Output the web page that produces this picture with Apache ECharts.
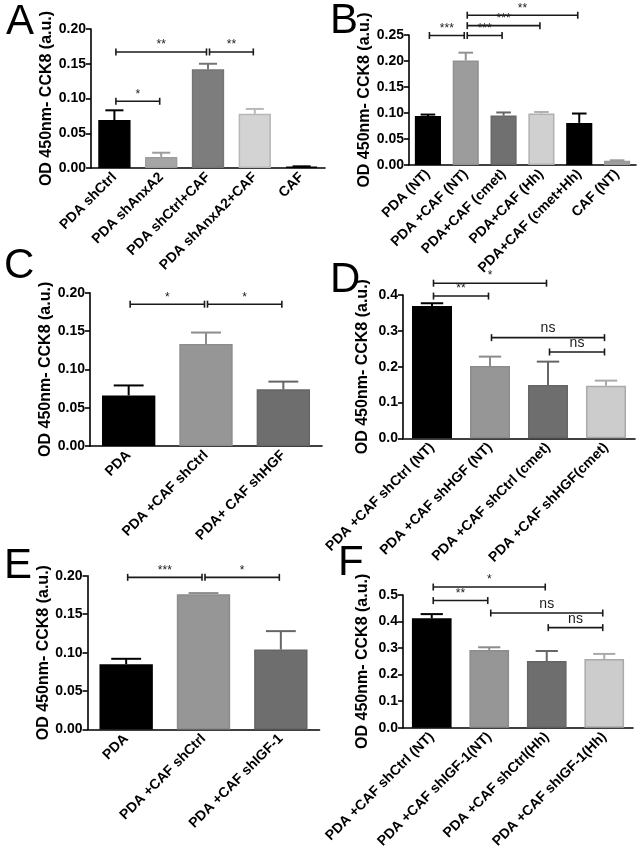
<!DOCTYPE html>
<html><head><meta charset="utf-8">
<script src="https://cdn.jsdelivr.net/npm/echarts@6/dist/echarts.min.js"></script>
<style>html,body{margin:0;padding:0;background:#fff}#c{width:644px;height:852px}</style>
</head><body><div id="c"></div>
<script>
// ---------------- DATA ----------------
const yName = 'OD 450nm- CCK8 (a.u.)';

const catsA = ['PDA shCtrl', 'PDA shAnxA2', 'PDA shCtrl+CAF', 'PDA shAnxA2+CAF', 'CAF'];
const meanA = [0.069, 0.016, 0.142, 0.078, 0.002];
const semA  = [0.014, 0.006, 0.008, 0.007, 0.0004];
const sigA  = [[0, 1, 0.096], [0, 2, 0.167], [2, 3, 0.167]];
const sigLabelsA = ['*', '**', '**'];

const catsB = ['PDA (NT)', 'PDA +CAF (NT)', 'PDA+CAF (cmet)', 'PDA+CAF (Hh)', 'PDA+CAF (cmet+Hh)', 'CAF (NT)'];
const meanB = [0.094, 0.201, 0.095, 0.099, 0.081, 0.008];
const semB  = [0.003, 0.015, 0.006, 0.003, 0.018, 0.001];
const sigB  = [[0, 1, 0.249], [1, 2, 0.249], [1, 3, 0.268], [1, 4, 0.288]];
const sigLabelsB = ['***', '***', '***', '**'];

const catsC = ['PDA', 'PDA +CAF shCtrl', 'PDA+ CAF shHGF'];
const meanC = [0.066, 0.133, 0.074];
const semC  = [0.013, 0.015, 0.010];
const sigC  = [[0, 1, 0.185], [1, 2, 0.185]];
const sigLabelsC = ['*', '*'];

const catsD = ['PDA +CAF shCtrl (NT)', 'PDA +CAF shHGF (NT)', 'PDA +CAF shCtrl (cmet)', 'PDA +CAF shHGF(cmet)'];
const meanD = [0.369, 0.202, 0.149, 0.147];
const semD  = [0.008, 0.026, 0.065, 0.014];
const sigD  = [[0, 2, 0.433], [0, 1, 0.397], [1, 3, 0.281], [2, 3, 0.241]];
const sigLabelsD = ['*', '**', 'ns', 'ns'];

const catsE = ['PDA', 'PDA +CAF shCtrl', 'PDA +CAF shIGF-1'];
const meanE = [0.085, 0.176, 0.104];
const semE  = [0.007, 0.0015, 0.024];
const sigE  = [[0, 1, 0.198], [1, 2, 0.198]];
const sigLabelsE = ['***', '*'];

const catsF = ['PDA +CAF shCtrl (NT)', 'PDA +CAF shIGF-1(NT)', 'PDA +CAF shCtrl(Hh)', 'PDA +CAF shIGF-1(Hh)'];
const meanF = [0.412, 0.293, 0.251, 0.259];
const semF  = [0.016, 0.010, 0.038, 0.019];
const sigF  = [[0, 2, 0.530], [0, 1, 0.479], [1, 3, 0.432], [2, 3, 0.377]];
const sigLabelsF = ['*', '**', 'ns', 'ns'];

const yMaxes = [0.20, 0.25, 0.20, 0.4, 0.20, 0.5];
const yIntervals = [0.05, 0.05, 0.05, 0.1, 0.05, 0.1];

// ---------------- STYLE / LAYOUT ----------------
const FONT = 'Arial, "Liberation Sans", sans-serif';
const BLK = '#000000';
const panels = [
  {letter: 'A', cats: catsA, mean: meanA, sem: semA, sig: sigA, sigL: sigLabelsA, dec: 2,
   grid: {left: 91, top: 29, width: 234, height: 139}, lpos: [6, 1],
   fill: [BLK, '#a6a6a6', '#7d7d7d', '#d3d3d3', BLK], border: [BLK, '#9c9c9c', '#747474', '#b8b8b8', BLK]},
  {letter: 'B', cats: catsB, mean: meanB, sem: semB, sig: sigB, sigL: sigLabelsB, dec: 2,
   grid: {left: 409, top: 35, width: 227, height: 130}, lpos: [330, 0],
   fill: [BLK, '#9c9c9c', '#707070', '#d0d0d0', BLK, '#a0a0a0'], border: [BLK, '#929292', '#666666', '#b0b0b0', BLK, '#999999']},
  {letter: 'C', cats: catsC, mean: meanC, sem: semC, sig: sigC, sigL: sigLabelsC, dec: 2,
   grid: {left: 90, top: 292.7, width: 232, height: 153.3}, lpos: [4, 245],
   fill: [BLK, '#969696', '#6e6e6e'], border: [BLK, '#8c8c8c', '#666666']},
  {letter: 'D', cats: catsD, mean: meanD, sem: semD, sig: sigD, sigL: sigLabelsD, dec: 1,
   grid: {left: 403, top: 295, width: 232, height: 143.3}, lpos: [330, 259],
   fill: [BLK, '#969696', '#6e6e6e', '#cccccc'], border: [BLK, '#8c8c8c', '#666666', '#aaaaaa']},
  {letter: 'E', cats: catsE, mean: meanE, sem: semE, sig: sigE, sigL: sigLabelsE, dec: 2,
   grid: {left: 87.5, top: 575.8, width: 232, height: 153.7}, lpos: [4, 545],
   fill: [BLK, '#969696', '#6e6e6e'], border: [BLK, '#8c8c8c', '#666666']},
  {letter: 'F', cats: catsF, mean: meanF, sem: semF, sig: sigF, sigL: sigLabelsF, dec: 1,
   grid: {left: 403, top: 595, width: 230, height: 132.7}, lpos: [338, 542],
   fill: [BLK, '#969696', '#6e6e6e', '#cccccc'], border: [BLK, '#8c8c8c', '#666666', '#aaaaaa']}
];

const BAR_FRAC = 0.69;

function errRender(p) {
  return function (params, api) {
    const i = api.value(0);
    const a = api.coord([i, api.value(1)]);
    const b = api.coord([i, api.value(2)]);
    const half = api.size([1, 0])[0] * BAR_FRAC * 0.28;
    const c = p.border[i];
    return {type: 'group', children: [
      {type: 'line', shape: {x1: a[0], y1: a[1], x2: b[0], y2: b[1]}, style: {stroke: c, lineWidth: 2}},
      {type: 'line', shape: {x1: b[0] - half, y1: b[1], x2: b[0] + half, y2: b[1]}, style: {stroke: c, lineWidth: 2}}
    ]};
  };
}
function sigRender(p) {
  return function (params, api) {
    const a = api.coord([api.value(0), api.value(2)]);
    const b = api.coord([api.value(1), api.value(2)]);
    const x1 = a[0] + 1.5, x2 = b[0] - 1.5, y = a[1];
    const lab = p.sigL[params.dataIndex];
    const isNs = lab === 'ns';
    const st = {stroke: '#1a1a1a', lineWidth: 1.6};
    return {type: 'group', children: [
      {type: 'line', shape: {x1: x1, y1: y, x2: x2, y2: y}, style: st},
      {type: 'line', shape: {x1: x1, y1: y - 3.5, x2: x1, y2: y + 3.5}, style: st},
      {type: 'line', shape: {x1: x2, y1: y - 3.5, x2: x2, y2: y + 3.5}, style: st},
      {type: 'text', x: (x1 + x2) / 2, y: y - (isNs ? 2 : 1),
       style: {text: lab, align: 'center', verticalAlign: 'bottom', fill: '#1a1a1a',
               fontSize: isNs ? 14 : 12, fontFamily: FONT}}
    ]};
  };
}

const option = {animation: false, backgroundColor: '#fff', grid: [], xAxis: [], yAxis: [], series: [], graphic: []};
panels.forEach(function (p, k) {
  option.grid.push(Object.assign({containLabel: false, outerBoundsMode: 'none'}, p.grid));
  option.xAxis.push({
    type: 'category', gridIndex: k, data: p.cats,
    axisLine: {lineStyle: {color: '#000', width: 1.6}},
    axisTick: {alignWithLabel: true, length: 5, lineStyle: {color: '#000', width: 1.6}},
    axisLabel: {rotate: 45, interval: 0, margin: 7, color: '#000', fontWeight: 'bold', fontSize: 14, fontFamily: FONT},
    splitLine: {show: false}
  });
  option.yAxis.push({
    type: 'value', gridIndex: k, min: 0, max: yMaxes[k], interval: yIntervals[k],
    name: yName, nameLocation: 'middle', nameGap: 32,
    nameTextStyle: {color: '#000', fontWeight: 'bold', fontSize: 16, fontFamily: FONT},
    axisLine: {show: true, lineStyle: {color: '#000', width: 1.6}},
    axisTick: {show: true, length: 5, lineStyle: {color: '#000', width: 1.6}},
    axisLabel: {color: '#000', fontWeight: 'bold', fontSize: 14, fontFamily: FONT, margin: 5,
                formatter: function (v) { return v.toFixed(p.dec); }},
    splitLine: {show: false}
  });
  option.series.push({
    type: 'bar', xAxisIndex: k, yAxisIndex: k, barWidth: (BAR_FRAC * 100) + '%',
    data: p.mean.map(function (v, i) {
      return {value: v, itemStyle: {color: p.fill[i], borderColor: p.border[i], borderWidth: 1.5}};
    })
  });
  option.series.push({
    type: 'custom', xAxisIndex: k, yAxisIndex: k, clip: false, z: 3,
    renderItem: errRender(p), encode: {x: 0, y: [1, 2]},
    data: p.mean.map(function (v, i) { return [i, v, v + p.sem[i]]; })
  });
  option.series.push({
    type: 'custom', xAxisIndex: k, yAxisIndex: k, clip: false, z: 4,
    renderItem: sigRender(p), encode: {x: [0, 1], y: 2},
    data: p.sig
  });
  option.graphic.push({type: 'text', left: p.lpos[0], top: p.lpos[1],
    style: {text: p.letter, fontSize: 42, fontFamily: FONT, fill: '#000'}});
});

const chart = echarts.init(document.getElementById('c'), null, {renderer: 'canvas'});
chart.setOption(option);
</script>
</body></html>
